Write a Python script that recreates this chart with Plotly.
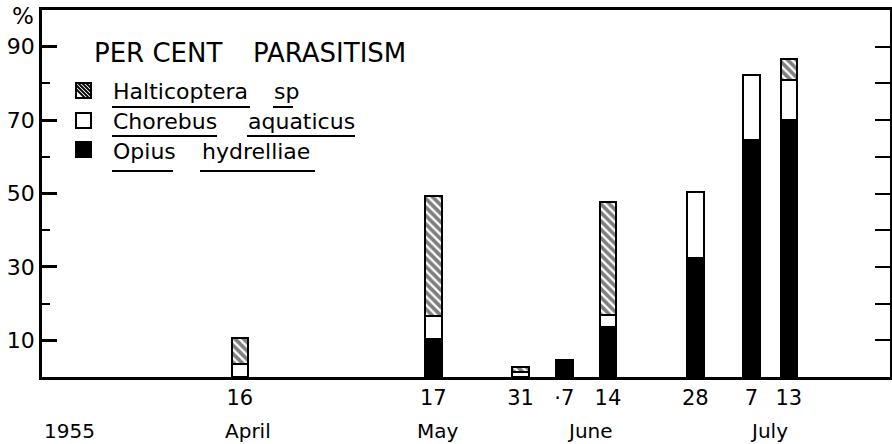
import plotly.graph_objects as go

# Sampling dates (1955) and per-cent parasitism by species
dates = ["1955-04-16", "1955-05-17", "1955-05-31", "1955-06-07",
         "1955-06-14", "1955-06-28", "1955-07-07", "1955-07-13"]
day_labels = ["16", "17", "31", "·7", "14", "28", "7", "13"]
opius = [0, 10.3, 0, 4.5, 13.6, 32.4, 64.5, 70.0]
chorebus = [3.5, 6.2, 1.3, 0, 3.4, 18.1, 17.9, 10.8]
halticoptera = [7.2, 32.8, 1.4, 0, 30.8, 0, 0, 5.9]

y_major = [10, 30, 50, 70, 90]
y_minor = [20, 40, 60, 80]
y_right = [10, 20, 30, 40, 50, 60, 70, 80, 90]

months = ["April", "May", "June", "July"]
year_label = "1955"

W, H = 892, 444
ML, MR, MT, MB = 42, 2, 10, 67
PW, PH = W - ML - MR, H - MT - MB
FONT = "DejaVu Sans"


def px(x):
    return (x - ML) / PW


def py(y):
    return (H - MB - y) / PH


bar_w = 2.65 * 86400000
outline = dict(color="black", width=2.2)

fig = go.Figure()
fig.add_trace(go.Bar(x=dates, y=opius, width=bar_w, name="Opius hydrelliae",
                     marker=dict(color="black", line=outline), showlegend=False))
fig.add_trace(go.Bar(x=dates, y=chorebus, width=bar_w, name="Chorebus aquaticus",
                     marker=dict(color="white", line=outline), showlegend=False))
fig.add_trace(go.Bar(x=dates, y=halticoptera, width=bar_w, name="Halticoptera sp",
                     marker=dict(color="white", line=outline,
                                 pattern=dict(shape="\\", fgcolor="black", bgcolor="white",
                                              size=6, solidity=0.62)),
                     showlegend=False))
# carrier for the right-hand tick axis
fig.add_trace(go.Scatter(x=[dates[0]], y=[None], yaxis="y2", showlegend=False,
                         hoverinfo="skip", mode="markers"))

shapes = []
annotations = []

# Legend heading
annotations.append(dict(text="PER CENT", x=px(92), y=py(53), xref="paper", yref="paper",
                        xanchor="left", yanchor="middle", showarrow=False,
                        font=dict(family=FONT, size=26, color="black")))
annotations.append(dict(text="PARASITISM", x=px(251), y=py(53), xref="paper", yref="paper",
                        xanchor="left", yanchor="middle", showarrow=False,
                        font=dict(family=FONT, size=26, color="black")))

# Legend entries: words with their underlines
legend_rows = [
    (91, 107, [("Halticoptera", 111, 112, 250), ("sp", 272, 273, 293)]),
    (121, 136, [("Chorebus", 111, 112, 217), ("aquaticus", 246, 247, 355)]),
    (151, 171, [("Opius", 111, 112, 173), ("hydrelliae", 200, 200, 315)]),
]
for ty, uy, words in legend_rows:
    for word, wx, u0, u1 in words:
        annotations.append(dict(text=word, x=px(wx), y=py(ty), xref="paper", yref="paper",
                                xanchor="left", yanchor="middle", showarrow=False,
                                font=dict(family=FONT, size=22, color="black")))
        shapes.append(dict(type="line", xref="paper", yref="paper",
                           x0=px(u0), x1=px(u1), y0=py(uy), y1=py(uy),
                           line=dict(color="black", width=2)))

# Legend swatches
sx0, sx1 = 76, 91
for (sy0, sy1, fill) in [(83, 98, "hatch"), (113, 128, "white"), (142, 157, "black")]:
    shapes.append(dict(type="rect", xref="paper", yref="paper",
                       x0=px(sx0), x1=px(sx1), y0=py(sy1), y1=py(sy0),
                       fillcolor="black" if fill == "black" else "white",
                       line=dict(color="black", width=2)))
    if fill == "hatch":
        for c in range(-15, 16, 4):
            a = max(sx0, sy0 - c)
            b = min(sx1, sy1 - c)
            if a < b:
                shapes.append(dict(type="line", xref="paper", yref="paper",
                                   x0=px(a), y0=py(a + c), x1=px(b), y1=py(b + c),
                                   line=dict(color="black", width=1.8)))

# Axis unit and date labels
annotations.append(dict(text="%", x=px(23), y=py(16), xref="paper", yref="paper",
                        xanchor="center", yanchor="middle", showarrow=False,
                        font=dict(family=FONT, size=23, color="black")))
annotations.append(dict(text=year_label, x=px(69), y=py(431), xref="paper", yref="paper",
                        xanchor="center", yanchor="middle", showarrow=False,
                        font=dict(family=FONT, size=20, color="black")))
for m, mx in zip(months, [248, 438, 590, 769]):
    annotations.append(dict(text=m, x=px(mx), y=py(431), xref="paper", yref="paper",
                            xanchor="center", yanchor="middle", showarrow=False,
                            font=dict(family=FONT, size=20, color="black")))

fig.update_layout(
    width=W, height=H,
    margin=dict(l=ML, r=MR, t=MT, b=MB, autoexpand=False),
    paper_bgcolor="white", plot_bgcolor="white",
    barmode="stack", bargap=0,
    showlegend=False,
    xaxis=dict(type="date", range=["1955-03-15 07:00", "1955-07-29 05:00"],
               tickmode="array", tickvals=dates, ticktext=day_labels, ticks="",
               tickfont=dict(family=FONT, size=21, color="black"),
               showgrid=False, zeroline=False,
               showline=True, linecolor="black", linewidth=3, mirror=True,
               automargin=False),
    yaxis=dict(range=[0, 100], tickmode="array", tickvals=y_major,
               ticktext=[str(v) for v in y_major],
               ticks="inside", ticklen=15, tickwidth=2.5, tickcolor="black",
               tickfont=dict(family=FONT, size=22, color="black"),
               minor=dict(tickmode="array", tickvals=y_minor, ticks="inside",
                          ticklen=8, tickwidth=2, tickcolor="black"),
               showgrid=False, zeroline=False,
               showline=True, linecolor="black", linewidth=2.5,
               automargin=False),
    yaxis2=dict(range=[0, 100], overlaying="y", side="right",
                tickmode="array", tickvals=y_right, showticklabels=False,
                ticks="inside", ticklen=15, tickwidth=2, tickcolor="black",
                showgrid=False, zeroline=False,
                showline=True, linecolor="black", linewidth=1.5,
                automargin=False),
    shapes=shapes,
    annotations=annotations,
)

fig.write_html("out.html")
